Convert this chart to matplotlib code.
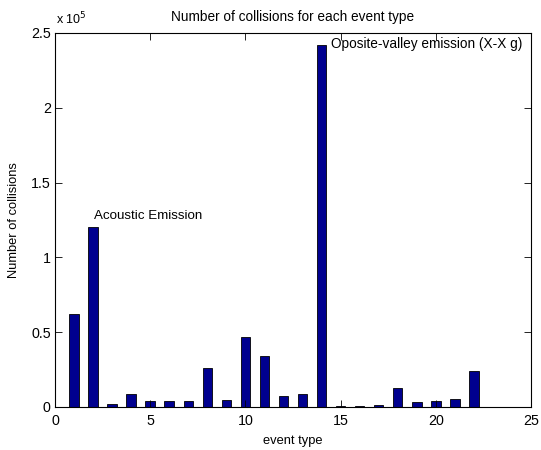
import matplotlib
matplotlib.use("Agg")
import matplotlib.pyplot as plt

event_types = list(range(1, 23))
collisions = [62500, 120000, 2000, 8500, 4000, 4000, 4000, 26000, 5000, 47000,
              34000, 7500, 8500, 242000, 700, 500, 1200, 12800, 3300, 4000,
              5500, 24000]
x_ticks = [0, 5, 10, 15, 20, 25]
y_ticks = [0, 0.5e5, 1e5, 1.5e5, 2e5, 2.5e5]
y_tick_labels = ["0", "0.5", "1", "1.5", "2", "2.5"]

plt.rcParams['font.family'] = ['Liberation Sans', 'DejaVu Sans']

fig = plt.figure(figsize=(5.41, 4.5), dpi=100)
ax = fig.add_axes([55/541, 1 - 407/450, 476/541, 374/450])

ax.bar(event_types, collisions, width=0.5, color='#00008f', edgecolor='black', linewidth=0.6)

ax.set_xlim(0, 25)
ax.set_ylim(0, 2.5e5)
ax.set_xticks(x_ticks)
ax.set_xticklabels([str(t) for t in x_ticks], fontsize=10.3)
ax.set_yticks(y_ticks)
ax.set_yticklabels(y_tick_labels, fontsize=10.3)
ax.tick_params(direction='in', length=5, width=0.6, top=True, right=True)
ax.tick_params(axis='x', pad=5)
ax.tick_params(axis='y', pad=3)
for s in ax.spines.values():
    s.set_linewidth(0.8)

ax.set_title("Number of collisions for each event type", fontsize=9.8, pad=9)
ax.set_xlabel("event type", fontsize=9.3, labelpad=5)
ax.set_ylabel("Number of collisions", fontsize=9.3, labelpad=8)

ax.text(2.07, 1.28e5, "Acoustic Emission", fontsize=9.6, va='center', ha='left')
ax.text(14.5, 2.425e5, "Oposite-valley emission (X-X g)", fontsize=9.8, va='center', ha='left')

fig.text(56/541, 1 - 19/450, r"x 10$^{5}$", fontsize=9, va='center', ha='left')

fig.savefig("out.png", dpi=100)
